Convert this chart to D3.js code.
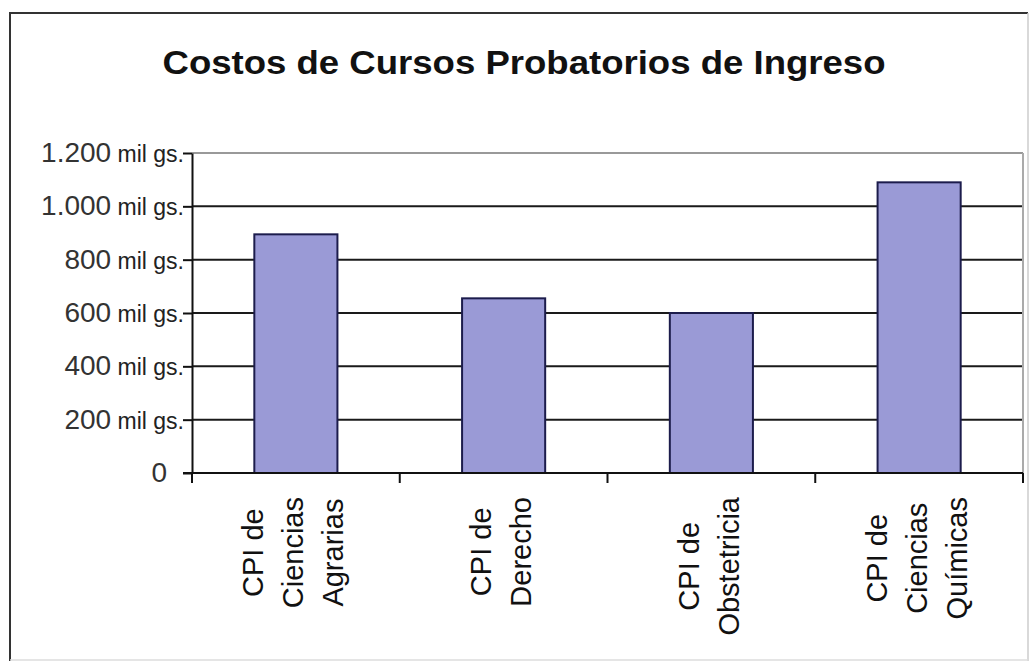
<!DOCTYPE html>
<meta charset="utf-8">
<html>
<head>
    <title>Costos de Cursos Probatorios de Ingreso</title>
    <script src="https://d3js.org/d3.v7.min.js"></script>
    <style>
        body { margin: 0; background: #fff; }
        text { font-family: "Liberation Sans", Arial, sans-serif; }
    </style>
</head>
<body>

    <div id="chart"></div>

    <script type="text/javascript">

        // datos
        var cursos = ["CPI de Ciencias Agrarias", "CPI de Derecho", "CPI de Obstetricia", "CPI de Ciencias Químicas"],
            etiquetas = [["CPI de", "Ciencias", "Agrarias"], ["CPI de", "Derecho"], ["CPI de", "Obstetricia"], ["CPI de", "Ciencias", "Químicas"]],
            costos = [895, 655, 600, 1090],
            yTicks = [0, 200, 400, 600, 800, 1000, 1200],
            unidad = "mil gs.",
            titulo = "Costos de Cursos Probatorios de Ingreso";

        var width = 1030, height = 662,
            margin = { top: 153, right: 7, bottom: 189, left: 192 },
            lineHeight = 40;

        var fmt = d3.formatLocale({ decimal: ",", thousands: ".", grouping: [3], currency: ["", ""] }).format(",");

        var svg = d3.select("#chart").append("svg")
            .attr("width", width)
            .attr("height", height);

        // marco exterior
        svg.append("line").attr("x1", 10).attr("y1", 13).attr("x2", 1028).attr("y2", 13)
            .attr("stroke", "#333").attr("stroke-width", 2);
        svg.append("line").attr("x1", 10).attr("y1", 12).attr("x2", 10).attr("y2", 661)
            .attr("stroke", "#333").attr("stroke-width", 2);
        svg.append("line").attr("x1", 1028).attr("y1", 13).attr("x2", 1028).attr("y2", 661)
            .attr("stroke", "#ccc").attr("stroke-width", 1.5);
        svg.append("line").attr("x1", 10).attr("y1", 660).attr("x2", 1028).attr("y2", 660)
            .attr("stroke", "#ddd").attr("stroke-width", 1.5);

        svg.append("text")
            .attr("x", 524)
            .attr("y", 74)
            .attr("text-anchor", "middle")
            .attr("textLength", 723)
            .attr("lengthAdjust", "spacingAndGlyphs")
            .style("font-size", "34px")
            .style("font-weight", "bold")
            .style("fill", "#111")
            .text(titulo);

        var x = d3.scaleBand()
            .domain(cursos)
            .range([margin.left, width - margin.right])
            .paddingInner(0.6)
            .paddingOuter(0.3);

        var y = d3.scaleLinear()
            .domain([0, 1200])
            .range([height - margin.bottom, margin.top]);

        var x0 = margin.left, x1 = width - margin.right;

        // lineas de division
        svg.selectAll(".grid")
            .data(yTicks.filter(function(d) { return d > 0; }))
            .enter().append("line")
            .attr("class", "grid")
            .attr("x1", x0).attr("x2", x1)
            .attr("y1", function(d) { return y(d); })
            .attr("y2", function(d) { return y(d); })
            .attr("stroke", function(d) { return d == 1200 ? "#999" : "#1a1a1a"; })
            .attr("stroke-width", 2);

        // borde derecho del area
        svg.append("line")
            .attr("x1", x1).attr("x2", x1)
            .attr("y1", y(1200)).attr("y2", y(0))
            .attr("stroke", "#aaa").attr("stroke-width", 2);

        // barras
        svg.selectAll(".bar")
            .data(costos)
            .enter().append("rect")
            .attr("class", "bar")
            .attr("x", function(d, i) { return x(cursos[i]); })
            .attr("y", function(d) { return y(d); })
            .attr("width", x.bandwidth())
            .attr("height", function(d) { return y(0) - y(d); })
            .style("fill", "#9a9ad6")
            .style("stroke", "#1c1c4c")
            .style("stroke-width", 2);

        // eje y
        var yAxis = svg.append("g")
            .attr("transform", "translate(" + x0 + ",0)")
            .call(d3.axisLeft(y).tickValues(yTicks).tickSizeInner(9).tickSizeOuter(0).tickFormat(""));
        yAxis.selectAll("path, line").attr("stroke", "#111").attr("stroke-width", 2);

        var yLab = svg.selectAll(".ylab")
            .data(yTicks)
            .enter().append("text")
            .attr("class", "ylab")
            .attr("x", function(d) { return d > 0 ? 184 : 167; })
            .attr("y", function(d) { return y(d) + 9; })
            .attr("text-anchor", "end");
        yLab.append("tspan")
            .style("font-size", "28px")
            .style("fill", "#333")
            .text(function(d) { return fmt(d); });
        yLab.append("tspan")
            .style("font-size", "23px")
            .style("fill", "#222")
            .text(function(d) { return d > 0 ? " " + unidad : ""; });

        // eje x
        var bordes = d3.range(cursos.length + 1).map(function(i) { return x0 + i * x.step(); });
        svg.append("line")
            .attr("x1", x0 - 9).attr("x2", x1)
            .attr("y1", y(0)).attr("y2", y(0))
            .attr("stroke", "#111").attr("stroke-width", 2);
        svg.selectAll(".xtick")
            .data(bordes)
            .enter().append("line")
            .attr("class", "xtick")
            .attr("x1", function(d) { return d; })
            .attr("x2", function(d) { return d; })
            .attr("y1", y(0))
            .attr("y2", y(0) + 10)
            .attr("stroke", "#111").attr("stroke-width", 2);

        // etiquetas verticales
        var labTop = 497;
        var grupos = svg.selectAll(".xlab")
            .data(etiquetas)
            .enter().append("g")
            .attr("class", "xlab")
            .attr("transform", function(d, i) {
                return "translate(" + (x(cursos[i]) + x.bandwidth() / 2 - 3) + "," + labTop + ") rotate(-90)";
            });

        grupos.each(function(lineas) {
            var g = d3.select(this);
            var t = g.selectAll("text")
                .data(lineas)
                .enter().append("text")
                .attr("y", function(d, i) { return (i - (lineas.length - 1) / 2) * lineHeight + 10.5; })
                .attr("text-anchor", "middle")
                .style("font-size", "29px")
                .style("fill", "#111")
                .text(function(d) { return d; });
            var maxW = d3.max(t.nodes(), function(n) { return n.getComputedTextLength(); });
            t.attr("x", -maxW / 2);
        });

    </script>

</body>
</html>
